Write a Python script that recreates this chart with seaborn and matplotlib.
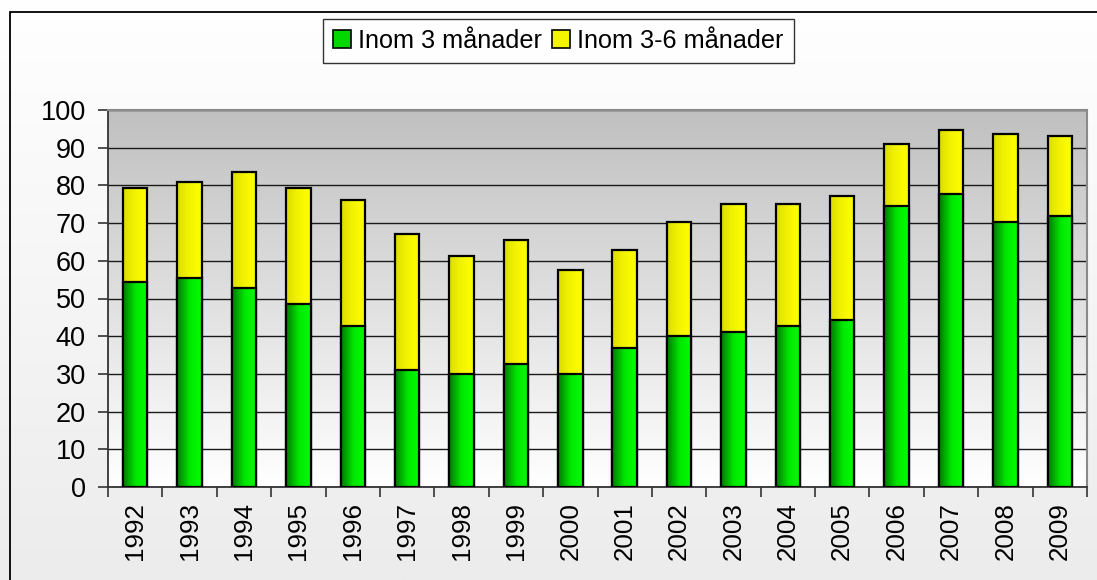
import numpy as np
import pandas as pd
import matplotlib
matplotlib.use("Agg")
import matplotlib.pyplot as plt
import seaborn as sns
from matplotlib.patches import Rectangle, Patch
from matplotlib.colors import LinearSegmentedColormap

# ── DATA ─────────────────────────────────────────────────────────────────────
YEARS = [str(y) for y in range(1992, 2010)]
WITHIN_3 = [54.4, 55.4, 52.8, 48.5, 42.7, 31.0, 30.0, 32.6, 30.0,
            36.9, 40.0, 41.1, 42.7, 44.3, 74.5, 77.7, 70.3, 71.9]
WITHIN_3_6 = [24.9, 25.5, 30.8, 30.8, 33.4, 36.1, 31.3, 32.9, 27.6,
              26.0, 30.3, 34.0, 32.4, 32.9, 16.5, 17.0, 23.3, 21.2]
LABELS = ["Inom 3 månader", "Inom 3-6 månader"]
Y_TICKS = list(range(0, 101, 10))

df = pd.DataFrame({"year": YEARS, "g3": WITHIN_3, "g36": WITHIN_3_6})
df["total"] = df["g3"] + df["g36"]

sns.set_style("white")
plt.rcParams["font.family"] = ["Liberation Sans", "DejaVu Sans"]
plt.rcParams["text.color"] = "black"
plt.rcParams["xtick.color"] = "black"
plt.rcParams["ytick.color"] = "black"

GREEN_CMAP = LinearSegmentedColormap.from_list("g", ["#007a00", "#00e600", "#00ff00"])
YELLOW_CMAP = LinearSegmentedColormap.from_list("y", ["#dcdc00", "#f4f400", "#ffff00"])
BAR_W = 0.45

fig = plt.figure(figsize=(10.97, 5.8), dpi=100)

# figure background gradient
bg = fig.add_axes([0, 0, 1, 1], zorder=-5)
bg.imshow(np.linspace(0, 1, 256).reshape(-1, 1),
          cmap=LinearSegmentedColormap.from_list("bg", ["#ffffff", "#ececec"]),
          aspect="auto", extent=[0, 1, 0, 1])
bg.axis("off")

ax = fig.add_axes([108 / 1097, 93 / 580, 979 / 1097, 377 / 580])
ax.patch.set_alpha(0)

# plot area gradient: gray at top, white at bottom
ax.imshow(np.linspace(0, 1, 256).reshape(-1, 1), transform=ax.transAxes,
          cmap=LinearSegmentedColormap.from_list("pa", ["#c0c0c0", "#ffffff"]),
          aspect="auto", extent=[0, 1, 0, 1], zorder=0)

# stacked bars: total (yellow) behind, green in front
sns.barplot(data=df, x="year", y="total", color="#ffff00", saturation=1,
            width=BAR_W, edgecolor="black", linewidth=1.6, ax=ax, zorder=3)
n_y = len(ax.patches)
sns.barplot(data=df, x="year", y="g3", color="#00ff00", saturation=1,
            width=BAR_W, edgecolor="black", linewidth=1.6, ax=ax, zorder=5)

grad = np.linspace(0, 1, 64).reshape(1, -1)
for i, p in enumerate(ax.patches):
    cmap = YELLOW_CMAP if i < n_y else GREEN_CMAP
    z = 2.5 if i < n_y else 4.5
    x0, w, h = p.get_x(), p.get_width(), p.get_height()
    ax.imshow(grad, cmap=cmap, aspect="auto", extent=[x0, x0 + w, 0, h], zorder=z)
    p.set_facecolor("none")

ax.set_xlim(-0.5, len(YEARS) - 0.5)
ax.set_ylim(0, 100)
ax.set_yticks(Y_TICKS)
ax.set_xticks(range(len(YEARS)))
ax.set_xticklabels(YEARS, rotation=90)
ax.set_xticks(np.arange(-0.5, len(YEARS), 1), minor=True)
ax.set_xlabel("")
ax.set_ylabel("")

ax.grid(axis="y", color="#1a1a1a", linewidth=1.0)
ax.set_axisbelow(True)
for gl in ax.get_ygridlines():
    gl.set_zorder(1)

ax.tick_params(axis="y", which="major", length=7, width=1.2, color="#333333",
               labelsize=19.5, labelcolor="black", pad=9, left=True, direction="out")
ax.tick_params(axis="x", which="major", length=0, labelsize=18.7,
               labelcolor="black", pad=11)
ax.tick_params(axis="x", which="minor", length=7, width=1.2, color="#333333",
               bottom=True, direction="out")

for s in ["left", "bottom"]:
    ax.spines[s].set_color("#333333")
    ax.spines[s].set_linewidth(1.3)
for s in ["top", "right"]:
    ax.spines[s].set_color("#8a8a8a")
    ax.spines[s].set_linewidth(1.5)
    ax.spines[s].set_visible(True)

handles = [Patch(facecolor="#00d800", edgecolor="black", linewidth=1.2),
           Patch(facecolor="#f4f400", edgecolor="black", linewidth=1.2)]
leg = fig.legend(handles, LABELS, loc="center", bbox_to_anchor=(0.509, 0.929),
                 ncol=2, frameon=True, fancybox=False, edgecolor="black",
                 fontsize=18.2, handlelength=0.7, handleheight=0.7,
                 columnspacing=0.4, handletextpad=0.3, borderpad=0.4,
                 labelcolor="black")
leg.get_frame().set_linewidth(1.0)
leg.get_frame().set_facecolor("white")

# outer chart border (cut off at right and bottom like the reference)
fig.add_artist(Rectangle((10 / 1097, -0.2), 1.5, 0.2 + 568 / 580, fill=False,
                         edgecolor="black", linewidth=1.3,
                         transform=fig.transFigure))

fig.savefig("out.png", dpi=100)
